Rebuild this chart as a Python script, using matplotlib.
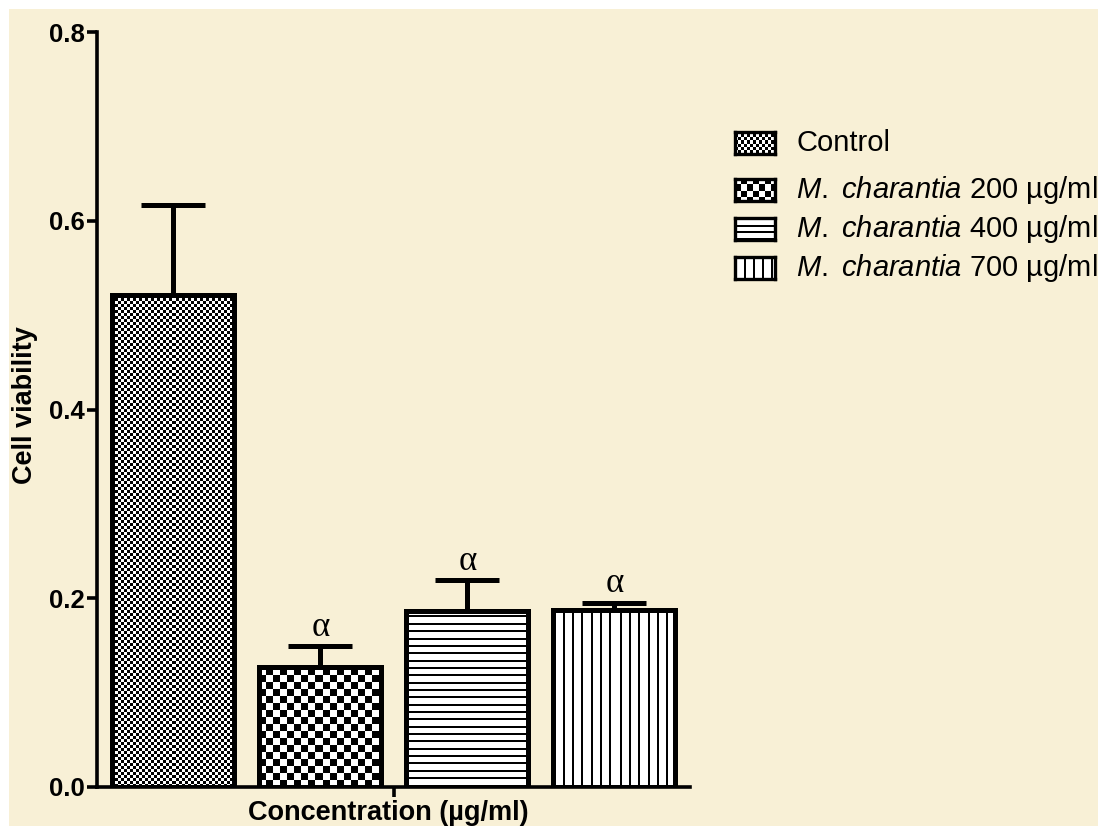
import numpy as np
import matplotlib
matplotlib.use("Agg")
import matplotlib.pyplot as plt
from matplotlib.colors import ListedColormap
from matplotlib.patches import Rectangle

# cell viability after treatment (mean, upper SEM)
groups = ["Control", "M. charantia 200", "M. charantia 400", "M. charantia 700"]
viability = [0.521, 0.127, 0.186, 0.1875]
sem = [0.096, 0.022, 0.033, 0.0075]
significant = [False, True, True, True]
legend_labels = ["Control",
                 r"$\mathit{M.\ charantia}$ 200 µg/ml",
                 r"$\mathit{M.\ charantia}$ 400 µg/ml",
                 r"$\mathit{M.\ charantia}$ 700 µg/ml"]
patterns = ["fine", "coarse", "hlines", "vlines"]

W, H = 1098, 826
cream = "#F8F0D6"
bw = ListedColormap(["white", "black"])

plt.rcParams["font.family"] = ["Liberation Sans", "DejaVu Sans"]
plt.rcParams["mathtext.fontset"] = "custom"
plt.rcParams["mathtext.rm"] = "Liberation Sans"
plt.rcParams["mathtext.it"] = "Liberation Sans:italic"


def pattern_array(kind, ny, nx, small=False):
    yy, xx = np.mgrid[0:ny, 0:nx]
    if kind == "fine":
        c = 3
        return ((xx // c + yy // c) % 2).astype(float)
    if kind == "coarse":
        c = 6 if small else 7
        return ((xx // c + yy // c) % 2).astype(float)
    if kind == "hlines":
        step = 6.5 if small else 7.35
        return ((yy % step) < 2).astype(float)
    if kind == "vlines":
        step = 9.0 if small else 9.33
        return ((xx % step) < 2).astype(float)


def fill_bar(ax, bar, kind):
    x0, y0 = bar.get_x(), bar.get_y()
    w, h = bar.get_width(), bar.get_height()
    (px0, py0), (px1, py1) = ax.transData.transform([(x0, y0), (x0 + w, y0 + h)])
    nx, ny = int(round(px1 - px0)), int(round(py1 - py0))
    img = ax.imshow(pattern_array(kind, ny, nx), cmap=bw, vmin=0, vmax=1,
                    extent=(x0, x0 + w, y0, y0 + h), origin="lower",
                    interpolation="nearest", aspect="auto", zorder=0.5)
    img.set_clip_path(bar)


fig = plt.figure(figsize=(W / 100, H / 100), dpi=100, facecolor="white")
fig.add_artist(Rectangle((9 / W, -0.1), 1.2, 1.1 - 9 / H, transform=fig.transFigure,
                         facecolor=cream, edgecolor="none", zorder=-10))

ax = fig.add_axes([97 / W, (H - 787) / H, (690 - 97) / W, (787 - 32) / H])
ax.set_facecolor("none")
ax.set_xlim(-0.52, 3.514)
ax.set_ylim(0, 0.8)

x = np.arange(len(groups))
bars = ax.bar(x, viability, width=0.83, facecolor="none", edgecolor="black",
              linewidth=3.6, zorder=1)
for bar, kind in zip(bars, patterns):
    fill_bar(ax, bar, kind)
ax.set_xlim(-0.52, 3.514)
ax.set_ylim(0, 0.8)

ax.errorbar(x, viability, yerr=[np.zeros(len(x)), sem], fmt="none", ecolor="black",
            elinewidth=3.6, capsize=23, capthick=3.6, zorder=2)

for xi, v, e, sig in zip(x, viability, sem, significant):
    if sig:
        ax.annotate("α", (xi, v + e), xytext=(0, 2), textcoords="offset points",
                    ha="center", va="bottom", fontsize=25,
                    family=["Liberation Serif", "DejaVu Serif"])

for side in ["top", "right"]:
    ax.spines[side].set_visible(False)
for side in ["left", "bottom"]:
    ax.spines[side].set_linewidth(2.6)
ax.set_yticks([0.0, 0.2, 0.4, 0.6, 0.8])
ax.set_yticklabels(["0.0", "0.2", "0.4", "0.6", "0.8"], fontsize=18.5, fontweight="bold")
ax.set_xticks([1.5])
ax.set_xticklabels([""])
ax.tick_params(axis="both", length=7, width=2.6, pad=2)

fig.text(25 / W, 1 - 405 / H, "Cell viability", rotation=90, ha="center", va="center",
         fontsize=19.5, fontweight="bold")
fig.text(388 / W, 1 - 813 / H, "Concentration (µg/ml)", ha="center", va="center",
         fontsize=19.5, fontweight="bold")

# legend drawn by hand: small pattern boxes with labels
rows = [143, 190, 229, 268]
for yc, kind, label in zip(rows, patterns, legend_labels):
    lax = fig.add_axes([735 / W, 1 - (yc + 11) / H, 40 / W, 22 / H])
    lax.imshow(pattern_array(kind, 22, 40, small=True), cmap=bw, vmin=0, vmax=1,
               interpolation="nearest", aspect="auto")
    lax.set_xticks([])
    lax.set_yticks([])
    for s in lax.spines.values():
        s.set_linewidth(2.4)
    fig.text(796 / W, 1 - yc / H, label, ha="left", va="center", fontsize=21)

fig.savefig("out.png", dpi=100, facecolor="white")
